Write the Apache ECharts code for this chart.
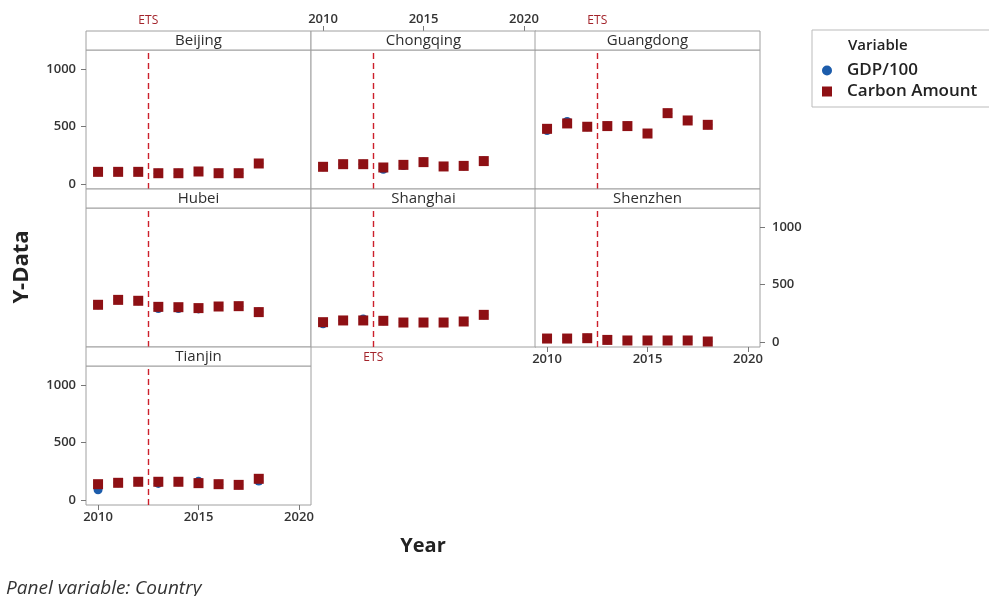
<!DOCTYPE html>
<html>
<head>
<meta charset="utf-8">
<script src="https://cdn.jsdelivr.net/npm/echarts@6/dist/echarts.min.js"></script>
<style>
  html, body { margin: 0; padding: 0; background: #fff; }
  #chart { width: 989px; height: 596px; }
</style>
</head>
<body>
<div id="chart"></div>
<script>
// Carbon amount and GDP/100 per region, 2010-2018
const years = [2010, 2011, 2012, 2013, 2014, 2015, 2016, 2017, 2018];
const regions = ['Beijing', 'Chongqing', 'Guangdong', 'Hubei', 'Shanghai', 'Shenzhen', 'Tianjin'];

const beijingCarbon   = [105, 105, 105, 93, 93, 108, 93, 93, 178];
const beijingGdp      = [105, 105, 105, 93, 93, 108, 93, 93, 178];
const chongqingCarbon = [149, 172, 172, 143, 166, 190, 152, 157, 199];
const chongqingGdp    = [149, 172, 172, 128, 160, 190, 152, 157, 199];
const guangdongCarbon = [481, 528, 499, 505, 505, 440, 618, 554, 516];
const guangdongGdp    = [466, 545, 499, 505, 505, 440, 618, 554, 516];
const hubeiCarbon     = [324, 367, 359, 306, 303, 295, 309, 312, 260];
const hubeiGdp        = [324, 367, 359, 292, 291, 288, 309, 312, 260];
const shanghaiCarbon  = [172, 187, 187, 184, 169, 169, 169, 178, 236];
const shanghaiGdp     = [158, 187, 200, 184, 169, 169, 169, 178, 236];
const shenzhenCarbon  = [29, 29, 32, 17, 12, 12, 12, 12, 3];
const shenzhenGdp     = [29, 29, 32, 17, 12, 12, 12, 12, 3];
const tianjinCarbon   = [137, 149, 158, 158, 158, 146, 137, 131, 184];
const tianjinGdp      = [88, 149, 158, 144, 158, 162, 137, 131, 164];

const carbonSeries = [beijingCarbon, chongqingCarbon, guangdongCarbon, hubeiCarbon, shanghaiCarbon, shenzhenCarbon, tianjinCarbon];
const gdpSeries    = [beijingGdp, chongqingGdp, guangdongGdp, hubeiGdp, shanghaiGdp, shenzhenGdp, tianjinGdp];

const etsYear = 2012.5;
const xTicks = [2010, 2015, 2020];
const yTicks = [0, 500, 1000];

// panel placement in the trellis and which outer axes each panel carries
const layout = [
  { col: 0, row: 0, yLeft: true, ets: 'top' },
  { col: 1, row: 0, xTop: true },
  { col: 2, row: 0, ets: 'top' },
  { col: 0, row: 1 },
  { col: 1, row: 1, ets: 'bottom' },
  { col: 2, row: 1, yRight: true, xBottom: true },
  { col: 0, row: 2, yLeft: true, xBottom: true }
];

const FONT = '"Open Sans", "DejaVu Sans", sans-serif';
const colLeft = [86, 311, 535];
const colW = 225;
const headerH = 19;
const rowTop = [31, 189, 347];
const plotH = 139;
const frame = '#a0a0a0';
const carbonColor = '#8e1014';
const gdpColor = '#1c5cab';
const X_MIN = 2009.4, X_MAX = 2020.6;
const Y_MIN = -45, Y_MAX = 1170;

const grids = [], xAxes = [], yAxes = [], series = [], graphics = [];
const plain = v => String(v);
const noLine = { show: false, onZero: false };

function tickStyle(show) {
  return { show: show, length: 5, lineStyle: { color: '#777' } };
}
function labelStyle(show, margin) {
  return { show: show, margin: margin, color: '#333', fontSize: 13, fontWeight: 600, fontFamily: FONT, formatter: plain };
}

regions.forEach((name, i) => {
  const L = layout[i];
  const left = colLeft[L.col];
  const top = rowTop[L.row] + headerH;
  grids.push({
    left: left, top: top, width: colW, height: plotH,
    show: true, borderColor: frame, borderWidth: 1, backgroundColor: '#fff'
  });
  const xShow = !!L.xBottom;
  xAxes.push({
    type: 'value', gridIndex: i, min: X_MIN, max: X_MAX, position: 'bottom',
    axisLine: noLine, splitLine: { show: false },
    axisTick: Object.assign(tickStyle(xShow), { customValues: xTicks }),
    axisLabel: Object.assign(labelStyle(xShow, 6), { customValues: xTicks })
  });
  const yShow = !!(L.yLeft || L.yRight);
  yAxes.push({
    type: 'value', gridIndex: i, min: Y_MIN, max: Y_MAX,
    position: L.yRight ? 'right' : 'left',
    axisLine: noLine, splitLine: { show: false },
    axisTick: Object.assign(tickStyle(yShow), { customValues: yTicks }),
    axisLabel: Object.assign(labelStyle(yShow, L.yRight ? 12 : 10), { customValues: yTicks })
  });

  // panel header strip
  graphics.push({
    type: 'rect', silent: true, z: 10,
    shape: { x: left, y: rowTop[L.row], width: colW, height: headerH },
    style: { fill: '#fff', stroke: frame, lineWidth: 1 }
  });
  graphics.push({
    type: 'text', silent: true, z: 11,
    x: left + colW / 2, y: rowTop[L.row] + headerH / 2 + 0.5,
    style: { text: name, fill: '#2e2e2e', font: '500 15px ' + FONT, textAlign: 'center', textVerticalAlign: 'middle' }
  });

  series.push({
    name: 'GDP/100', type: 'scatter', xAxisIndex: i, yAxisIndex: i,
    symbol: 'circle', symbolSize: 9,
    itemStyle: { color: gdpColor, opacity: 1 },
    data: years.map((y, k) => [y, gdpSeries[i][k]]),
    z: 2
  });
  series.push({
    name: 'Carbon Amount', type: 'scatter', xAxisIndex: i, yAxisIndex: i,
    symbol: 'rect', symbolSize: 10,
    itemStyle: { color: carbonColor, opacity: 1 },
    data: years.map((y, k) => [y, carbonSeries[i][k]]),
    z: 3,
    markLine: {
      silent: true, symbol: 'none', animation: false,
      lineStyle: { type: [6, 4], color: '#cc1f2b', width: 1.4 },
      label: {
        show: !!L.ets,
        position: L.ets === 'bottom' ? 'start' : 'end',
        distance: L.ets === 'bottom' ? 5 : 23,
        formatter: 'ETS', color: '#a3232a', fontSize: 12, fontFamily: FONT
      },
      data: [{ xAxis: etsYear }]
    }
  });
});

// year scale above the Chongqing header: an axis-only grid spanning header and plot
const topIdx = grids.length;
grids.push({ left: colLeft[1], top: rowTop[0], width: colW, height: headerH + plotH, show: false });
xAxes.push({
  type: 'value', gridIndex: topIdx, min: X_MIN, max: X_MAX, position: 'top',
  axisLine: noLine, splitLine: { show: false },
  axisTick: Object.assign(tickStyle(true), { customValues: xTicks }),
  axisLabel: Object.assign(labelStyle(true, 5), { customValues: xTicks })
});
yAxes.push({
  type: 'value', gridIndex: topIdx, min: Y_MIN, max: Y_MAX, show: false
});

// legend frame and heading
graphics.push({
  type: 'rect', silent: true,
  shape: { x: 812, y: 30, width: 190, height: 77 },
  style: { fill: '#fff', stroke: '#bbb', lineWidth: 1 }, z: 0
});
graphics.push({
  type: 'text', silent: true, x: 848, y: 46,
  style: { text: 'Variable', fill: '#222', font: '600 15px ' + FONT, textVerticalAlign: 'middle' }, z: 5
});
// axis titles and footnote
graphics.push({
  type: 'text', silent: true, x: 22, y: 267, rotation: Math.PI / 2,
  style: { text: 'Y-Data', fill: '#222', font: 'bold 22px ' + FONT, textAlign: 'center', textVerticalAlign: 'middle' }
});
graphics.push({
  type: 'text', silent: true, x: 423, y: 546,
  style: { text: 'Year', fill: '#222', font: 'bold 20px ' + FONT, textAlign: 'center', textVerticalAlign: 'middle' }
});
graphics.push({
  type: 'text', silent: true, x: 6, y: 589,
  style: { text: 'Panel variable: Country', fill: '#333', font: 'italic 19px ' + FONT, textVerticalAlign: 'middle' }
});

const chart = echarts.init(document.getElementById('chart'), null, { renderer: 'canvas' });
chart.setOption({
  animation: false,
  backgroundColor: '#fff',
  grid: grids,
  xAxis: xAxes,
  yAxis: yAxes,
  legend: {
    orient: 'vertical', left: 817, top: 56,
    itemWidth: 10, itemHeight: 10, itemGap: 2,
    data: [
      { name: 'GDP/100', icon: 'circle', itemStyle: { color: gdpColor } },
      { name: 'Carbon Amount', icon: 'rect', itemStyle: { color: carbonColor } }
    ],
    textStyle: { color: '#222', fontSize: 17, fontWeight: 600, fontFamily: FONT, lineHeight: 19, padding: [0, 0, 0, 10] },
    selectedMode: false
  },
  graphic: graphics,
  series: series
});
</script>
</body>
</html>
